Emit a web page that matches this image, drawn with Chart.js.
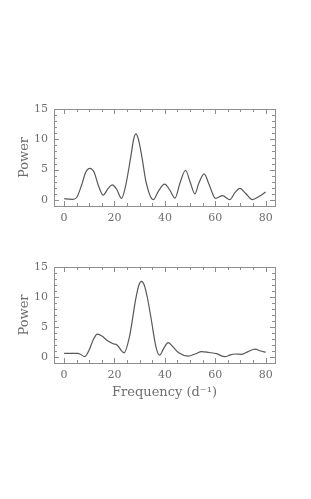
<!DOCTYPE html>
<html>
<head>
<meta charset="utf-8">
<script src="https://cdn.jsdelivr.net/npm/chart.js@4.4.1/dist/chart.umd.min.js"></script>
<style>
  html, body { margin: 0; padding: 0; background: #fff; }
  body { width: 311px; height: 499px; position: relative; overflow: hidden; }
  .box { position: absolute; left: 0; width: 311px; }
</style>
</head>
<body>
<div class="box" id="boxTop" style="top:95px;height:135px"><canvas id="chartTop"></canvas></div>
<div class="box" id="boxBottom" style="top:250px;height:160px"><canvas id="chartBottom"></canvas></div>
<script>
// power spectra
const freqTop = [0, 2, 3.5, 5, 7, 8.5, 10.2, 12, 13.5, 15.5, 17.5, 19.1, 20.8, 22.8, 24.5, 26.5, 27.6, 28.5, 29.5, 31, 32.5, 35.4,
  37.5, 39.9, 42, 44, 46, 48.2, 50, 51.9, 53.5, 55.6, 57.5, 60.1, 62.9, 65.8, 67.8, 69.8, 72, 74.7, 77.5, 80];
const powerTop = [0.2, 0.15, 0.1, 0.4, 2.5, 4.5, 5.2, 4.5, 2.5, 0.8, 1.9, 2.5, 1.8, 0.25, 2.5, 7.2, 10.0, 10.9, 10.0, 6.8, 3.0, 0.05,
  1.5, 2.6, 1.6, 0.3, 2.8, 4.9, 3.0, 1.0, 2.8, 4.3, 2.6, 0.25, 0.7, 0.05, 1.2, 1.9, 1.1, 0.05, 0.6, 1.3];

const freqBottom = [0, 5.5, 6.5, 8.2, 10, 11.5, 13.2, 15, 17, 19.5, 21, 23.8, 26, 28.5, 29.7, 30.7, 31.8, 33, 34.5, 36.5, 37.9,
  39.5, 41.3, 43, 45.5, 49.3, 52, 54.6, 57.5, 60.5, 63.8, 66, 67.8, 70.5, 73, 75.8, 78, 80];
const powerBottom = [0.6, 0.6, 0.45, 0.05, 1.2, 2.8, 3.8, 3.5, 2.8, 2.2, 2.0, 0.7, 3.5, 9.8, 12.0, 12.6, 12.0, 10.0, 6.5, 1.6, 0.3,
  1.4, 2.4, 1.8, 0.7, 0.15, 0.5, 0.9, 0.75, 0.55, 0.05, 0.35, 0.5, 0.45, 0.9, 1.3, 1.0, 0.8];

const xTickValues = [0, 20, 40, 60, 80];
const yTickValues = [0, 5, 10, 15];
const xTitle = 'Frequency (d\u207B\u00B9)';
const yTitle = 'Power';

const textColor = '#6e6e6e';
const frameColor = '#8e8e8e';
const lineColor = '#585858';
const fontFamily = '"DejaVu Serif", "Liberation Serif", serif';

// frame with inward ticks on all four sides, like the original plot
const framePlugin = {
  id: 'frame',
  afterDatasetsDraw(chart) {
    const { ctx, chartArea: a, scales: { x, y } } = chart;
    ctx.save();
    ctx.strokeStyle = frameColor;
    ctx.lineWidth = 1;
    ctx.strokeRect(Math.round(a.left) + 0.5, Math.round(a.top) + 0.5,
      Math.round(a.right - a.left), Math.round(a.bottom - a.top));
    ctx.beginPath();
    for (let v = 0; v <= 80; v += 5) {
      const px = Math.round(x.getPixelForValue(v)) + 0.5;
      const len = v % 20 === 0 ? 5 : 3;
      ctx.moveTo(px, a.bottom); ctx.lineTo(px, a.bottom - len);
      ctx.moveTo(px, a.top); ctx.lineTo(px, a.top + len);
    }
    for (let v = 0; v <= 15; v += 1) {
      const py = Math.round(y.getPixelForValue(v)) + 0.5;
      const len = v % 5 === 0 ? 5 : 3;
      ctx.moveTo(a.left, py); ctx.lineTo(a.left + len, py);
      ctx.moveTo(a.right, py); ctx.lineTo(a.right - len, py);
    }
    ctx.stroke();
    ctx.restore();
  }
};

function makeChart(id, freqs, powers, withXTitle, padTop, xHeight) {
  const pts = freqs.map((f, i) => ({ x: f, y: powers[i] }));
  return new Chart(document.getElementById(id), {
    type: 'line',
    data: {
      datasets: [{
        data: pts,
        borderColor: lineColor,
        borderWidth: 1.2,
        pointRadius: 0,
        fill: false,
        cubicInterpolationMode: 'monotone'
      }]
    },
    options: {
      responsive: true,
      maintainAspectRatio: false,
      animation: false,
      events: [],
      layout: { padding: { top: padTop, right: 36, left: 0, bottom: 0 } },
      plugins: { legend: { display: false }, tooltip: { enabled: false } },
      scales: {
        x: {
          type: 'linear',
          min: -4,
          max: 83.7,
          grid: { display: false, drawTicks: false },
          border: { display: false },
          afterBuildTicks: (s) => { s.ticks = xTickValues.map(v => ({ value: v })); },
          afterFit: (s) => { s.height = xHeight; },
          ticks: { color: textColor, font: { family: fontFamily, size: 11 }, padding: 6, maxRotation: 0 },
          title: {
            display: withXTitle,
            text: xTitle,
            color: textColor,
            font: { family: fontFamily, size: 13 },
            padding: { top: 0, bottom: 10 }
          }
        },
        y: {
          min: -1,
          max: 15,
          grid: { display: false, drawTicks: false },
          border: { display: false },
          afterBuildTicks: (s) => { s.ticks = yTickValues.map(v => ({ value: v })); },
          afterFit: (s) => { s.width = 54; },
          ticks: { color: textColor, font: { family: fontFamily, size: 11 }, padding: 6 },
          title: {
            display: true,
            text: yTitle,
            color: textColor,
            font: { family: fontFamily, size: 13 },
            padding: { top: 17, bottom: 0 }
          }
        }
      }
    },
    plugins: [framePlugin]
  });
}

makeChart('chartTop', freqTop, powerTop, false, 14, 24);
makeChart('chartBottom', freqBottom, powerBottom, true, 17, 47);
</script>
</body>
</html>
